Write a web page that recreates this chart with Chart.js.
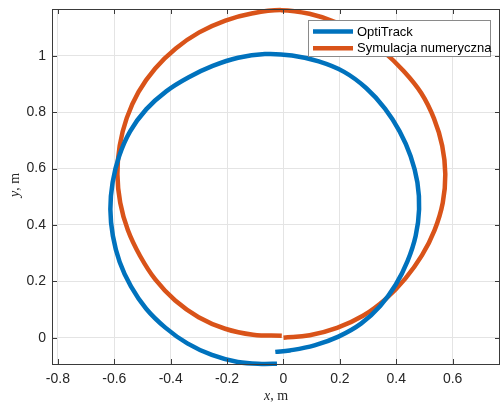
<!DOCTYPE html>
<html lang="pl">
<head>
    <meta charset="UTF-8">
    <title>OptiTrack vs Symulacja numeryczna</title>
    <script src="https://cdn.jsdelivr.net/npm/chart.js"></script>
    <style>
        html, body { margin: 0; padding: 0; background: #fff; }
        #wrap { width: 501px; height: 402px; }
    </style>
</head>
<body>
    <div id="wrap"><canvas id="myChart" width="501" height="402"></canvas></div>
    <script>
        const blueX = [-0.029, 0.022, 0.110, 0.195, 0.275, 0.343, 0.398, 0.440, 0.469, 0.481,
                       0.475, 0.451, 0.412, 0.360, 0.294, 0.215, 0.125, 0.030, -0.066, -0.161,
                       -0.251, -0.336, -0.416, -0.487, -0.544, -0.583, -0.606, -0.614, -0.605, -0.581,
                       -0.541, -0.487, -0.419, -0.341, -0.254, -0.162, -0.066, -0.023];
        const blueY = [-0.050, -0.045, -0.027, 0.004, 0.050, 0.113, 0.188, 0.272, 0.362, 0.456,
                       0.551, 0.644, 0.732, 0.813, 0.885, 0.943, 0.980, 1.001, 1.006, 0.993,
                       0.964, 0.924, 0.874, 0.810, 0.732, 0.644, 0.551, 0.456, 0.361, 0.269,
                       0.182, 0.103, 0.036, -0.020, -0.061, -0.086, -0.093, -0.092];

        // Symulacja numeryczna
        const orangeX = [0.000, 0.093, 0.190, 0.282, 0.363, 0.432, 0.491, 0.536, 0.565, 0.574,
                         0.563, 0.534, 0.489, 0.427, 0.356, 0.276, 0.188, 0.092, -0.008, -0.109,
                         -0.206, -0.299, -0.382, -0.455, -0.514, -0.556, -0.581, -0.589, -0.579, -0.552,
                         -0.509, -0.454, -0.384, -0.301, -0.207, -0.108, -0.006];
        const orangeY = [0.000, 0.009, 0.035, 0.078, 0.138, 0.210, 0.292, 0.382, 0.479, 0.580,
                         0.681, 0.777, 0.867, 0.945, 1.014, 1.071, 1.118, 1.149, 1.162, 1.151,
                         1.125, 1.083, 1.026, 0.955, 0.872, 0.779, 0.681, 0.580, 0.479, 0.382,
                         0.291, 0.206, 0.132, 0.073, 0.032, 0.011, 0.007];

        const xTicks = [-0.8, -0.6, -0.4, -0.2, 0, 0.2, 0.4, 0.6];
        const yTicks = [0, 0.2, 0.4, 0.6, 0.8, 1];
        const seriesNames = ['OptiTrack', 'Symulacja numeryczna'];
        const seriesColors = ['#0072BD', '#D95319'];

        function toPoints(xs, ys) {
            return xs.map((x, i) => ({ x: x, y: ys[i] }));
        }

        // ramka, znaczniki do wewnatrz, legenda i opisy osi w stylu MATLAB
        const matlabFrame = {
            id: 'matlabFrame',
            afterDatasetsDraw(chart) {
                const ctx = chart.ctx;
                const a = chart.chartArea;
                const xs = chart.scales.x, ys = chart.scales.y;
                ctx.save();
                ctx.strokeStyle = '#3a3a3a';
                ctx.lineWidth = 1;
                ctx.strokeRect(a.left + 0.5, a.top + 0.5, a.right - a.left - 1, a.bottom - a.top);
                ctx.beginPath();
                xTicks.forEach(v => {
                    const p = Math.round(xs.getPixelForValue(v)) + 0.5;
                    ctx.moveTo(p, a.bottom); ctx.lineTo(p, a.bottom - 5);
                    ctx.moveTo(p, a.top); ctx.lineTo(p, a.top + 5);
                });
                yTicks.forEach(v => {
                    const p = Math.round(ys.getPixelForValue(v)) + 0.5;
                    ctx.moveTo(a.left, p); ctx.lineTo(a.left + 5, p);
                    ctx.moveTo(a.right, p); ctx.lineTo(a.right - 5, p);
                });
                ctx.stroke();

                // legenda
                const lx = 308.5, ly = 20.5, lw = 182, lh = 36;
                ctx.fillStyle = '#ffffff';
                ctx.fillRect(lx, ly, lw, lh);
                ctx.strokeStyle = '#8a8a8a';
                ctx.strokeRect(lx, ly, lw, lh);
                ctx.font = '13px "Liberation Sans", Arial, sans-serif';
                ctx.textBaseline = 'middle';
                ctx.textAlign = 'left';
                seriesNames.forEach((name, i) => {
                    const y = 31.5 + i * 16.7;
                    ctx.strokeStyle = seriesColors[i];
                    ctx.lineWidth = 4.5;
                    ctx.beginPath();
                    ctx.moveTo(313, y); ctx.lineTo(353, y);
                    ctx.stroke();
                    ctx.fillStyle = '#000';
                    ctx.fillText(name, 357, y + 0.5);
                });

                // opisy osi: zmienna kursywa, jednostka prosto
                ctx.fillStyle = '#262626';
                const it = 'italic 14px "Liberation Serif", "Times New Roman", serif';
                const nr = '14px "Liberation Serif", "Times New Roman", serif';
                function label(v, cx, cy, rot) {
                    ctx.save();
                    ctx.translate(cx, cy);
                    ctx.rotate(rot);
                    ctx.font = it; const w1 = ctx.measureText(v).width;
                    ctx.font = nr; const w2 = ctx.measureText(', m').width;
                    let x0 = -(w1 + w2) / 2;
                    ctx.font = it; ctx.fillText(v, x0, 0);
                    ctx.font = nr; ctx.fillText(', m', x0 + w1, 0);
                    ctx.restore();
                }
                ctx.textBaseline = 'middle';
                label('x', 276, 396, 0);
                label('y', 15, 185, -Math.PI / 2);
                ctx.restore();
            }
        };

        const ctx = document.getElementById('myChart').getContext('2d');
        const myChart = new Chart(ctx, {
            type: 'scatter',
            data: {
                datasets: [
                    {
                        label: seriesNames[0],
                        data: toPoints(blueX, blueY),
                        showLine: true,
                        borderColor: seriesColors[0],
                        backgroundColor: seriesColors[0],
                        borderWidth: 4.5,
                        pointRadius: 0,
                        tension: 0.4,
                        clip: false
                    },
                    {
                        label: seriesNames[1],
                        data: toPoints(orangeX, orangeY),
                        showLine: true,
                        borderColor: seriesColors[1],
                        backgroundColor: seriesColors[1],
                        borderWidth: 4.5,
                        pointRadius: 0,
                        tension: 0.4,
                        clip: false
                    }
                ]
            },
            options: {
                responsive: false,
                animation: false,
                elements: { line: { tension: 0.4, cubicInterpolationMode: 'default' } },
                layout: { padding: { top: 9, right: 1, left: 0, bottom: 0 } },
                plugins: {
                    legend: { display: false },
                    tooltip: { enabled: false }
                },
                scales: {
                    x: {
                        type: 'linear',
                        min: -0.821,
                        max: 0.768,
                        afterBuildTicks: s => { s.ticks = xTicks.map(v => ({ value: v })); },
                        afterFit: s => { s.height = 38; s.paddingLeft = 0; s.paddingRight = 0; },
                        grid: { color: '#e4e4e4', drawTicks: false },
                        border: { display: false },
                        ticks: {
                            padding: 7,
                            color: '#262626',
                            font: { family: '"Liberation Sans", Arial, sans-serif', size: 14 },
                            callback: v => String(Math.round(v * 10) / 10)
                        }
                    },
                    y: {
                        type: 'linear',
                        min: -0.093,
                        max: 1.166,
                        afterBuildTicks: s => { s.ticks = yTicks.map(v => ({ value: v })); },
                        afterFit: s => { s.width = 52; s.paddingTop = 0; s.paddingBottom = 0; },
                        grid: { color: '#e4e4e4', drawTicks: false },
                        border: { display: false },
                        ticks: {
                            padding: 6,
                            color: '#262626',
                            font: { family: '"Liberation Sans", Arial, sans-serif', size: 14 },
                            callback: v => String(Math.round(v * 10) / 10)
                        }
                    }
                }
            },
            plugins: [matlabFrame]
        });
    </script>
</body>
</html>
